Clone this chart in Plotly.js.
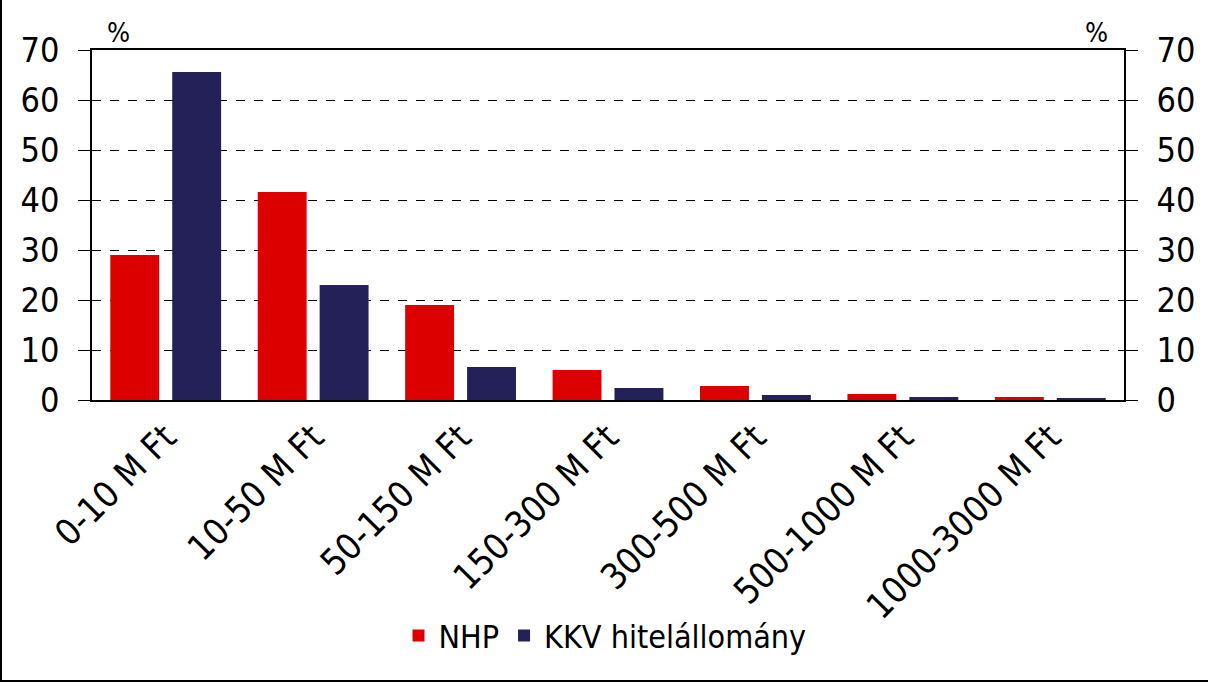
<!DOCTYPE html>
<html>
<head>
<meta charset="utf-8">
<script src="https://cdn.plot.ly/plotly-3.0.1.min.js"></script>
<style>
  body { margin: 0; padding: 0; background: #fff; }
  #chart { width: 1208px; height: 682px; box-sizing: border-box;
           border-left: 2px solid #000; border-bottom: 2px solid #000; }
</style>
</head>
<body>
<div id="chart"></div>
<script>
// loan size buckets
var categories = ["0-10 M Ft", "10-50 M Ft", "50-150 M Ft", "150-300 M Ft",
  "300-500 M Ft", "500-1000 M Ft", "1000-3000 M Ft"];

// share of loans, percent
var nhpValues = [29, 41.6, 19, 6, 2.8, 1.2, 0.6];
var kkvValues = [65.6, 23, 6.6, 2.4, 1.0, 0.6, 0.4];

var tickVals = [0, 10, 20, 30, 40, 50, 60, 70];

var fontFam = "DejaVu Sans Condensed, DejaVu Sans, sans-serif";

var trace1 = {
  x: categories,
  y: nhpValues,
  name: "NHP",
  type: "bar",
  marker: {color: "#dc0000"}
};

var trace2 = {
  x: categories,
  y: kkvValues,
  name: "KKV hitelállomány",
  type: "bar",
  marker: {color: "#232157"}
};

// invisible trace so the right axis gets drawn
var trace3 = {
  x: categories,
  y: nhpValues,
  yaxis: "y2",
  type: "bar",
  showlegend: false,
  hoverinfo: "skip",
  marker: {color: "rgba(0,0,0,0)"},
  opacity: 0
};

var data = [trace1, trace2, trace3];

var layout = {
  width: 1206,
  height: 680,
  margin: {l: 90, r: 84, t: 50, b: 280},
  paper_bgcolor: "#fff",
  plot_bgcolor: "#fff",
  font: {family: fontFam, color: "#000"},
  barmode: "group",
  bargap: 0.16,
  bargroupgap: 0.21,
  showlegend: true,
  legend: {
    orientation: "h",
    x: 0.5, xanchor: "center",
    xref: "container",
    y: 0.065, yanchor: "middle",
    yref: "container",
    font: {size: 32, family: fontFam},
    itemwidth: 30
  },
  xaxis: {
    tickangle: -45,
    tickfont: {size: 36, family: fontFam},
    showline: true,
    linecolor: "#000",
    linewidth: 1.5,
    mirror: true,
    ticks: "",
    showgrid: false
  },
  yaxis: {
    range: [0, 70],
    tickvals: tickVals,
    tickfont: {size: 34, family: fontFam},
    ticks: "outside",
    ticklen: 12,
    tickcolor: "#000",
    ticklabelstandoff: 12,
    showline: true,
    linecolor: "#000",
    linewidth: 1.5,
    gridcolor: "#000",
    griddash: "dash",
    gridwidth: 1,
    zeroline: false
  },
  yaxis2: {
    range: [0, 70],
    tickvals: tickVals,
    overlaying: "y",
    side: "right",
    tickfont: {size: 34, family: fontFam},
    ticks: "outside",
    ticklen: 12,
    tickcolor: "#000",
    ticklabelstandoff: 12,
    showline: true,
    linecolor: "#000",
    linewidth: 1.5,
    showgrid: false,
    zeroline: false
  },
  annotations: [
    {text: "%", xref: "paper", yref: "paper", x: 0.026, y: 1.0, xanchor: "center",
     yanchor: "bottom", showarrow: false, font: {size: 27, family: fontFam}},
    {text: "%", xref: "paper", yref: "paper", x: 0.973, y: 1.0, xanchor: "center",
     yanchor: "bottom", showarrow: false, font: {size: 27, family: fontFam}}
  ]
};

Plotly.newPlot("chart", data, layout, {displayModeBar: false});
</script>
</body>
</html>
